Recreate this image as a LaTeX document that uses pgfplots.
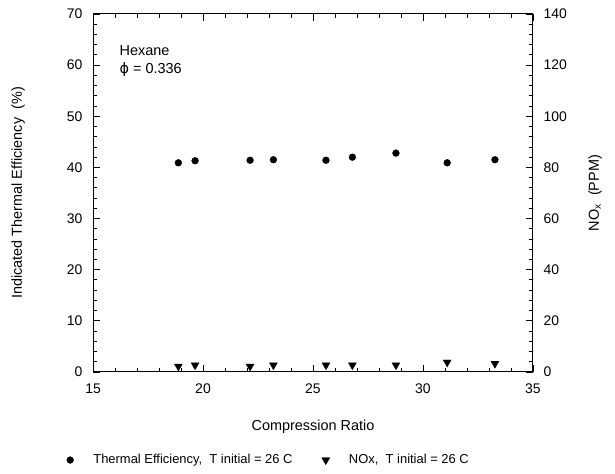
\documentclass[border=0pt]{standalone}
\usepackage{fontspec}
\setmainfont{Liberation Sans}
\newfontfamily\dejavu{DejaVu Sans}
\usepackage{pgfplots}
\usepackage{pgfplotstable}
\pgfplotsset{compat=1.18}

\pgfplotstableread{
cr eff nox
18.88 40.9 2.2
19.64 41.3 2.7
22.14 41.4 2.2
23.20 41.5 2.7
25.59 41.4 2.7
26.79 42.0 2.7
28.77 42.8 2.7
31.10 40.9 3.8
33.27 41.5 3.3
}\datatable

\begin{document}
\begin{tikzpicture}
\pgfplotsset{
  common/.style={
    scale only axis, width=440bp, height=358bp,
    xmin=15, xmax=35,
    /pgf/number format/assume math mode=true,
    tick label style={font=\fontsize{14}{16}\selectfont},
    label style={font=\fontsize{14.5}{17}\selectfont},
    tick align=inside,
    major tick length=7bp, minor tick length=4bp,
    every tick/.style={line width=0.9bp, black},
    axis line style={line width=1bp, black},
    clip=false,
  }
}
\begin{axis}[common,
  ymin=0, ymax=70, ytick={0,10,...,70}, minor y tick num=4,
  xtick={15,20,...,35}, minor x tick num=4,
  xtick pos=both, ytick pos=left,
  xticklabel style={yshift=-8bp},
  yticklabel style={xshift=-7bp},
  xlabel={Compression Ratio},
  ylabel={Indicated Thermal Efficiency\ \ (\%)},
  xlabel style={at={(axis description cs:0.5,-0.152)},anchor=center},
  ylabel style={at={(axis description cs:-0.170,0.5)},anchor=center},
  legend columns=2,
  legend style={at={(axis description cs:-0.071,-0.246)}, anchor=west, draw=none, fill=none,
    font=\fontsize{13}{15}\selectfont,
    /tikz/every even column/.append style={column sep=26bp}},
  legend image code/.code={\path (0bp,0bp) (26bp,0bp); \draw[#1] plot coordinates {(5bp,0bp)};},
]
\addplot[only marks, mark=*, mark size=3.4bp, black] table[x=cr,y=eff]{\datatable};
\addlegendentry{Thermal Efficiency,\ \ T initial = 26 C}
\addlegendimage{only marks, mark=triangle*, mark size=4.6bp, black, mark options={rotate=180}}
\addlegendentry{NOx,\ \ T initial = 26 C}
\node[anchor=north west, align=left, font=\fontsize{14.5}{18}\selectfont, inner sep=0pt] at (axis cs:16.2,63.9) {Hexane\\{\dejavu ϕ} = 0.336};
\path (axis description cs:-0.2114,-0.2849) rectangle (axis description cs:1.1864,1.0391);
\end{axis}
\begin{axis}[common,
  ymin=0, ymax=140, ytick={0,20,...,140}, minor y tick num=4,
  axis y line*=right, axis x line=none,
  yticklabel style={xshift=7bp},
  ylabel={NO\textsubscript{x}\ \ (PPM)},
  ylabel style={at={(axis description cs:1.141,0.5)},anchor=center},
]
\addplot[only marks, mark=triangle*, mark size=4.6bp, black, mark options={rotate=180}] table[x=cr,y=nox]{\datatable};
\end{axis}
\end{tikzpicture}
\end{document}
